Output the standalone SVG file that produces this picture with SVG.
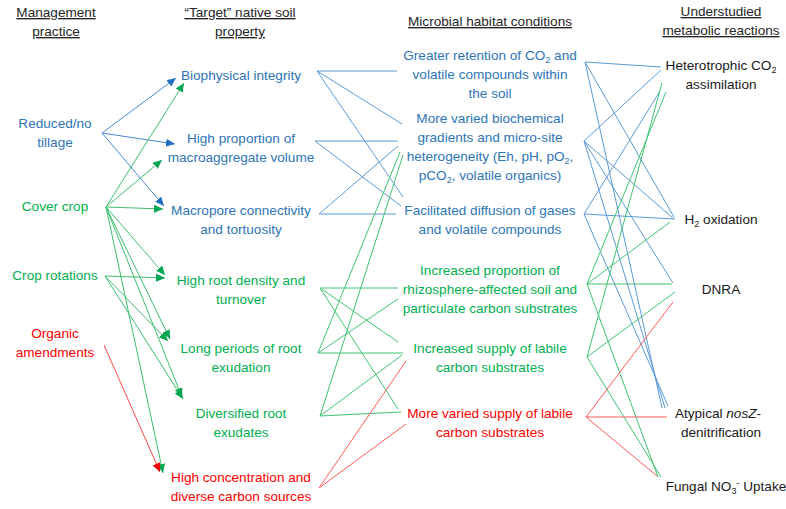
<svg xmlns="http://www.w3.org/2000/svg" width="786" height="509" viewBox="0 0 786 509">
<defs>
<style>
text{font-family:"Liberation Sans",Arial,sans-serif;font-size:13.6px;text-anchor:middle}
.h{fill:#262626;text-decoration:underline}
.k{fill:#1a1a1a}
.b{fill:#2E75B6}
.g{fill:#00B050}
.r{fill:#FF0000}
.sub{font-size:9px}
line{stroke-width:1;fill:none}
.lb{stroke:#5B9BD5}
.lg{stroke:#3FC472}
.lr{stroke:#FF5A5A}
.ab{stroke:#4A8AD0;marker-end:url(#mb)}
.ag{stroke:#3DBE6E;marker-end:url(#mg)}
.ar{stroke:#FF4A4A;marker-end:url(#mr)}
</style>
<marker id="mb" markerUnits="userSpaceOnUse" markerWidth="9" markerHeight="8" refX="9" refY="4" orient="auto"><path d="M0,0 L9,4 L0,8 z" fill="#1F6FC0"/></marker>
<marker id="mg" markerUnits="userSpaceOnUse" markerWidth="9" markerHeight="8" refX="9" refY="4" orient="auto"><path d="M0,0 L9,4 L0,8 z" fill="#00A650"/></marker>
<marker id="mr" markerUnits="userSpaceOnUse" markerWidth="9" markerHeight="8" refX="9" refY="4" orient="auto"><path d="M0,0 L9,4 L0,8 z" fill="#F00000"/></marker>
</defs>
<g id="headers">
<text class="h" x="56" y="17">Management</text>
<text class="h" x="56" y="36">practice</text>
<text class="h" x="240" y="17">“Target” native soil</text>
<text class="h" x="240" y="36">property</text>
<text class="h" x="490" y="26">Microbial habitat conditions</text>
<text class="h" x="721" y="16">Understudied</text>
<text class="h" x="721" y="35">metabolic reactions</text>
</g>
<g id="connectors">
<line class="ab" x1="102" y1="133" x2="176" y2="78"/>
<line class="ab" x1="102" y1="133" x2="175" y2="144"/>
<line class="ab" x1="102" y1="133" x2="164" y2="206"/>
<line class="ag" x1="106" y1="207" x2="184" y2="83"/>
<line class="ag" x1="106" y1="207" x2="162" y2="160"/>
<line class="ag" x1="106" y1="207" x2="163" y2="209"/>
<line class="ag" x1="106" y1="207" x2="165" y2="275"/>
<line class="ag" x1="106" y1="207" x2="170" y2="339"/>
<line class="ag" x1="106" y1="207" x2="182" y2="397"/>
<line class="ag" x1="106" y1="207" x2="163" y2="473"/>
<line class="ag" x1="105" y1="276" x2="165" y2="278"/>
<line class="ag" x1="105" y1="276" x2="168" y2="341"/>
<line class="ag" x1="105" y1="276" x2="183" y2="399"/>
<line class="ar" x1="104" y1="345" x2="160" y2="472"/>
<line class="lb" x1="317" y1="71" x2="397" y2="71"/>
<line class="lb" x1="317" y1="71" x2="402" y2="124"/>
<line class="lb" x1="317" y1="71" x2="403" y2="197"/>
<line class="lb" x1="315" y1="141" x2="398" y2="141"/>
<line class="lb" x1="315" y1="141" x2="401" y2="206"/>
<line class="lb" x1="319" y1="214" x2="396" y2="214"/>
<line class="lb" x1="319" y1="214" x2="398" y2="146"/>
<line class="lg" x1="320" y1="288" x2="398" y2="288"/>
<line class="lg" x1="320" y1="288" x2="398" y2="342"/>
<line class="lg" x1="320" y1="288" x2="398" y2="409"/>
<line class="lg" x1="318" y1="353" x2="403" y2="353"/>
<line class="lg" x1="318" y1="353" x2="398" y2="299"/>
<line class="lg" x1="318" y1="353" x2="400" y2="152"/>
<line class="lg" x1="320" y1="416" x2="401" y2="412"/>
<line class="lg" x1="320" y1="416" x2="402" y2="355"/>
<line class="lg" x1="320" y1="416" x2="403" y2="155"/>
<line class="lr" x1="319" y1="488" x2="406" y2="361"/>
<line class="lr" x1="319" y1="488" x2="406" y2="424"/>
<line class="lb" x1="585" y1="62" x2="661" y2="67"/>
<line class="lb" x1="585" y1="62" x2="674" y2="217"/>
<line class="lb" x1="585" y1="62" x2="662" y2="408"/>
<line class="lb" x1="584" y1="141" x2="661" y2="70"/>
<line class="lb" x1="584" y1="141" x2="674" y2="219"/>
<line class="lb" x1="584" y1="141" x2="673" y2="283"/>
<line class="lb" x1="584" y1="141" x2="665" y2="408"/>
<line class="lb" x1="584" y1="214" x2="660" y2="91"/>
<line class="lb" x1="584" y1="214" x2="675" y2="219"/>
<line class="lb" x1="584" y1="214" x2="668" y2="406"/>
<line class="lg" x1="587" y1="284" x2="666" y2="92"/>
<line class="lg" x1="587" y1="284" x2="670" y2="222"/>
<line class="lg" x1="587" y1="284" x2="672" y2="284"/>
<line class="lg" x1="587" y1="284" x2="658" y2="477"/>
<line class="lg" x1="587" y1="357" x2="662" y2="83"/>
<line class="lg" x1="587" y1="357" x2="675" y2="292"/>
<line class="lg" x1="587" y1="357" x2="661" y2="477"/>
<line class="lr" x1="586" y1="417" x2="673" y2="302"/>
<line class="lr" x1="586" y1="417" x2="667" y2="417"/>
<line class="lr" x1="586" y1="417" x2="657" y2="476"/>
</g>
<g id="tillage"><text class="b" x="55" y="128">Reduced/no</text><text class="b" x="55" y="147">tillage</text></g>
<g id="cover"><text class="g" x="55" y="211">Cover crop</text></g>
<g id="rotations"><text class="g" x="55" y="280">Crop rotations</text></g>
<g id="organic"><text class="r" x="55" y="338">Organic</text><text class="r" x="55" y="357">amendments</text></g>
<g id="biophysical"><text class="b" x="241" y="80">Biophysical integrity</text></g>
<g id="macroaggregate"><text class="b" x="241" y="143">High proportion of</text><text class="b" x="241" y="162">macroaggregate volume</text></g>
<g id="macropore"><text class="b" x="241" y="215">Macropore connectivity</text><text class="b" x="241" y="234">and tortuosity</text></g>
<g id="rootdensity"><text class="g" x="241" y="285">High root density and</text><text class="g" x="241" y="304">turnover</text></g>
<g id="exudation"><text class="g" x="241" y="353">Long periods of root</text><text class="g" x="241" y="372">exudation</text></g>
<g id="exudates"><text class="g" x="241" y="418">Diversified root</text><text class="g" x="241" y="437">exudates</text></g>
<g id="carbon"><text class="r" x="241" y="482">High concentration and</text><text class="r" x="241" y="501">diverse carbon sources</text></g>
<g id="retention"><text class="b" x="490" y="60">Greater retention of CO<tspan class="sub" dy="3">2</tspan><tspan dy="-3"> and</tspan></text><text class="b" x="490" y="79">volatile compounds within</text><text class="b" x="490" y="98">the soil</text></g>
<g id="gradients"><text class="b" x="490" y="123">More varied biochemical</text><text class="b" x="490" y="142">gradients and micro-site</text><text class="b" x="490" y="161">heterogeneity (Eh, pH, pO<tspan class="sub" dy="3">2</tspan><tspan dy="-3">,</tspan></text><text class="b" x="490" y="180">pCO<tspan class="sub" dy="3">2</tspan><tspan dy="-3">, volatile organics)</tspan></text></g>
<g id="diffusion"><text class="b" x="490" y="215">Facilitated diffusion of gases</text><text class="b" x="490" y="234">and volatile compounds</text></g>
<g id="rhizosphere"><text class="g" x="490" y="275">Increased proportion of</text><text class="g" x="490" y="294">rhizosphere-affected soil and</text><text class="g" x="490" y="313">particulate carbon substrates</text></g>
<g id="labile"><text class="g" x="490" y="353">Increased supply of labile</text><text class="g" x="490" y="372">carbon substrates</text></g>
<g id="varied"><text class="r" x="490" y="418">More varied supply of labile</text><text class="r" x="490" y="437">carbon substrates</text></g>
<g id="hetero"><text class="k" x="721" y="70">Heterotrophic CO<tspan class="sub" dy="3">2</tspan></text><text class="k" x="721" y="89">assimilation</text></g>
<g id="h2"><text class="k" x="721" y="224">H<tspan class="sub" dy="3">2</tspan><tspan dy="-3"> oxidation</tspan></text></g>
<g id="dnra"><text class="k" x="721" y="294">DNRA</text></g>
<g id="nosz"><text class="k" x="718" y="418">Atypical <tspan font-style="italic">nosZ</tspan>-</text><text class="k" x="721" y="437">denitrification</text></g>
<g id="fungal"><text class="k" x="726" y="491">Fungal NO<tspan class="sub" dy="3">3</tspan><tspan class="sub" dy="-8">-</tspan><tspan dy="5"> Uptake</tspan></text></g>
</svg>
